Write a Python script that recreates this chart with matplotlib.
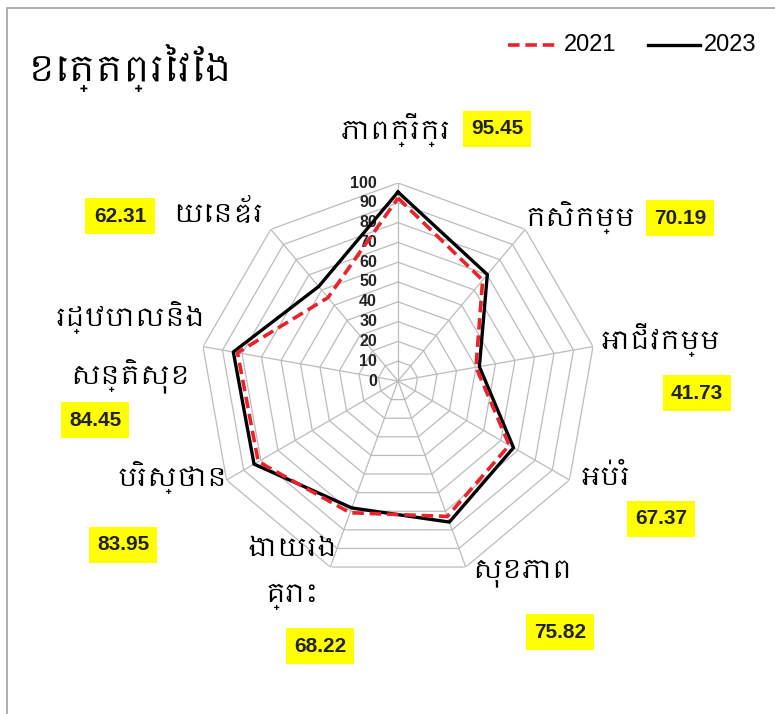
import numpy as np
import matplotlib
matplotlib.use("Agg")
import matplotlib.pyplot as plt
from matplotlib import font_manager
from matplotlib.patches import Rectangle
from matplotlib.transforms import offset_copy

# ---- data ----
categories = ["ភាពក្រីក្រ", "កសិកម្ម", "អាជីវកម្ម", "អប់រំ", "សុខភាព",
              "ងាយរង\nគ្រោះ", "បរិស្ថាន", "រដ្ឋបាលនិង\nសន្តិសុខ", "យេនឌ័រ"]
values_2021 = [92.4, 66.5, 40.0, 64.9, 72.8, 70.8, 81.5, 82.3, 55.0]
values_2023 = [95.45, 70.19, 41.73, 67.37, 75.82, 68.22, 83.95, 84.45, 62.31]
r_ticks = [0, 10, 20, 30, 40, 50, 60, 70, 80, 90, 100]
series_names = ["2021", "2023"]
title = "ខេត្តព្រៃវែង"

# ---- fonts ----
khmer = None
for f in font_manager.fontManager.ttflist:
    if "khmer" in f.name.lower() or "khmer" in f.fname.lower():
        khmer = f.name
        break
fam = ([khmer] if khmer else []) + ["DejaVu Sans"]
num_fam = ["Liberation Sans", "DejaVu Sans"]

W, H = 775, 714
fig = plt.figure(figsize=(W / 100, H / 100), dpi=100)
fig.patch.set_facecolor("white")

def fx(x):
    return x / W

def fy(y):
    return 1 - y / H

# frame border
fig.patches.append(Rectangle((fx(7), fy(800)), fx(900), 792 / H, transform=fig.transFigure,
                             fill=False, edgecolor="#a0a0a0", linewidth=1.2))

cx, cy, R = 398, 381, 198
ax = fig.add_axes([fx(cx - R), fy(cy + R), 2 * R / W, 2 * R / H], projection="polar")
ax.set_theta_zero_location("N")
ax.set_theta_direction(-1)
ax.set_ylim(0, 100)
ax.grid(False)
ax.set_xticks([])
ax.set_yticks([])
ax.spines["polar"].set_visible(False)
ax.patch.set_alpha(0)

n = len(categories)
theta = np.linspace(0, 2 * np.pi, n, endpoint=False)
theta_c = np.append(theta, theta[0])

for r in r_ticks[1:]:
    ax.plot(theta_c, [r] * (n + 1), color="#bcbcbc", lw=0.9, zorder=1)
for t in theta:
    ax.plot([t, t], [0, 100], color="#bcbcbc", lw=0.9, zorder=1)

tick_tr = offset_copy(ax.transData, fig=fig, x=-21, y=0, units="dots")
for r in r_ticks:
    ax.text(0, r, str(r), transform=tick_tr, ha="right", va="center",
            fontsize=11.5, fontweight="bold", family=num_fam, color="#222222", zorder=2)

v21 = np.append(values_2021, values_2021[0])
v23 = np.append(values_2023, values_2023[0])
ax.plot(theta_c, v21, color="#e8232a", lw=2.6, ls=(0, (3.2, 1.6)), zorder=4)
ax.plot(theta_c, v23, color="black", lw=2.4, zorder=3)

# category labels and value boxes (pixel positions)
label_pos = [(396, 130), (580, 218), (660, 340), (605, 478), (522, 573),
             (292, 573), (172, 478), (130, 347), (218, 213)]
value_pos = [(497, 129), (680, 218), (697, 393), (661, 519), (560, 632),
             (320, 646), (123, 545), (95, 420), (120, 216)]
for i in range(n):
    lx, ly = label_pos[i]
    fig.text(fx(lx), fy(ly), categories[i], ha="center", va="center",
             fontsize=19, fontweight="bold", family=fam, linespacing=2.0)
    vx, vy = value_pos[i]
    fig.text(fx(vx), fy(vy), f"{values_2023[i]:.2f}", ha="center", va="center",
             fontsize=15, fontweight="bold", family=num_fam, color="#222222",
             bbox=dict(boxstyle="square,pad=0.4", facecolor="#ffff00", edgecolor="none"))

fig.text(fx(28), fy(68), title, ha="left", va="center", fontsize=26,
         family=fam, fontweight="bold")

# legend
fig.add_artist(plt.Line2D([fx(508), fx(560)], [fy(45), fy(45)], transform=fig.transFigure,
                          color="#e8232a", lw=2.6, ls=(0, (3.2, 1.6))))
fig.text(fx(564), fy(45), series_names[0], ha="left", va="center", fontsize=17,
         family=num_fam)
fig.add_artist(plt.Line2D([fx(648), fx(700)], [fy(45), fy(45)], transform=fig.transFigure,
                          color="black", lw=2.4))
fig.text(fx(704), fy(45), series_names[1], ha="left", va="center", fontsize=17,
         family=num_fam)

fig.savefig("out.png", dpi=100)
